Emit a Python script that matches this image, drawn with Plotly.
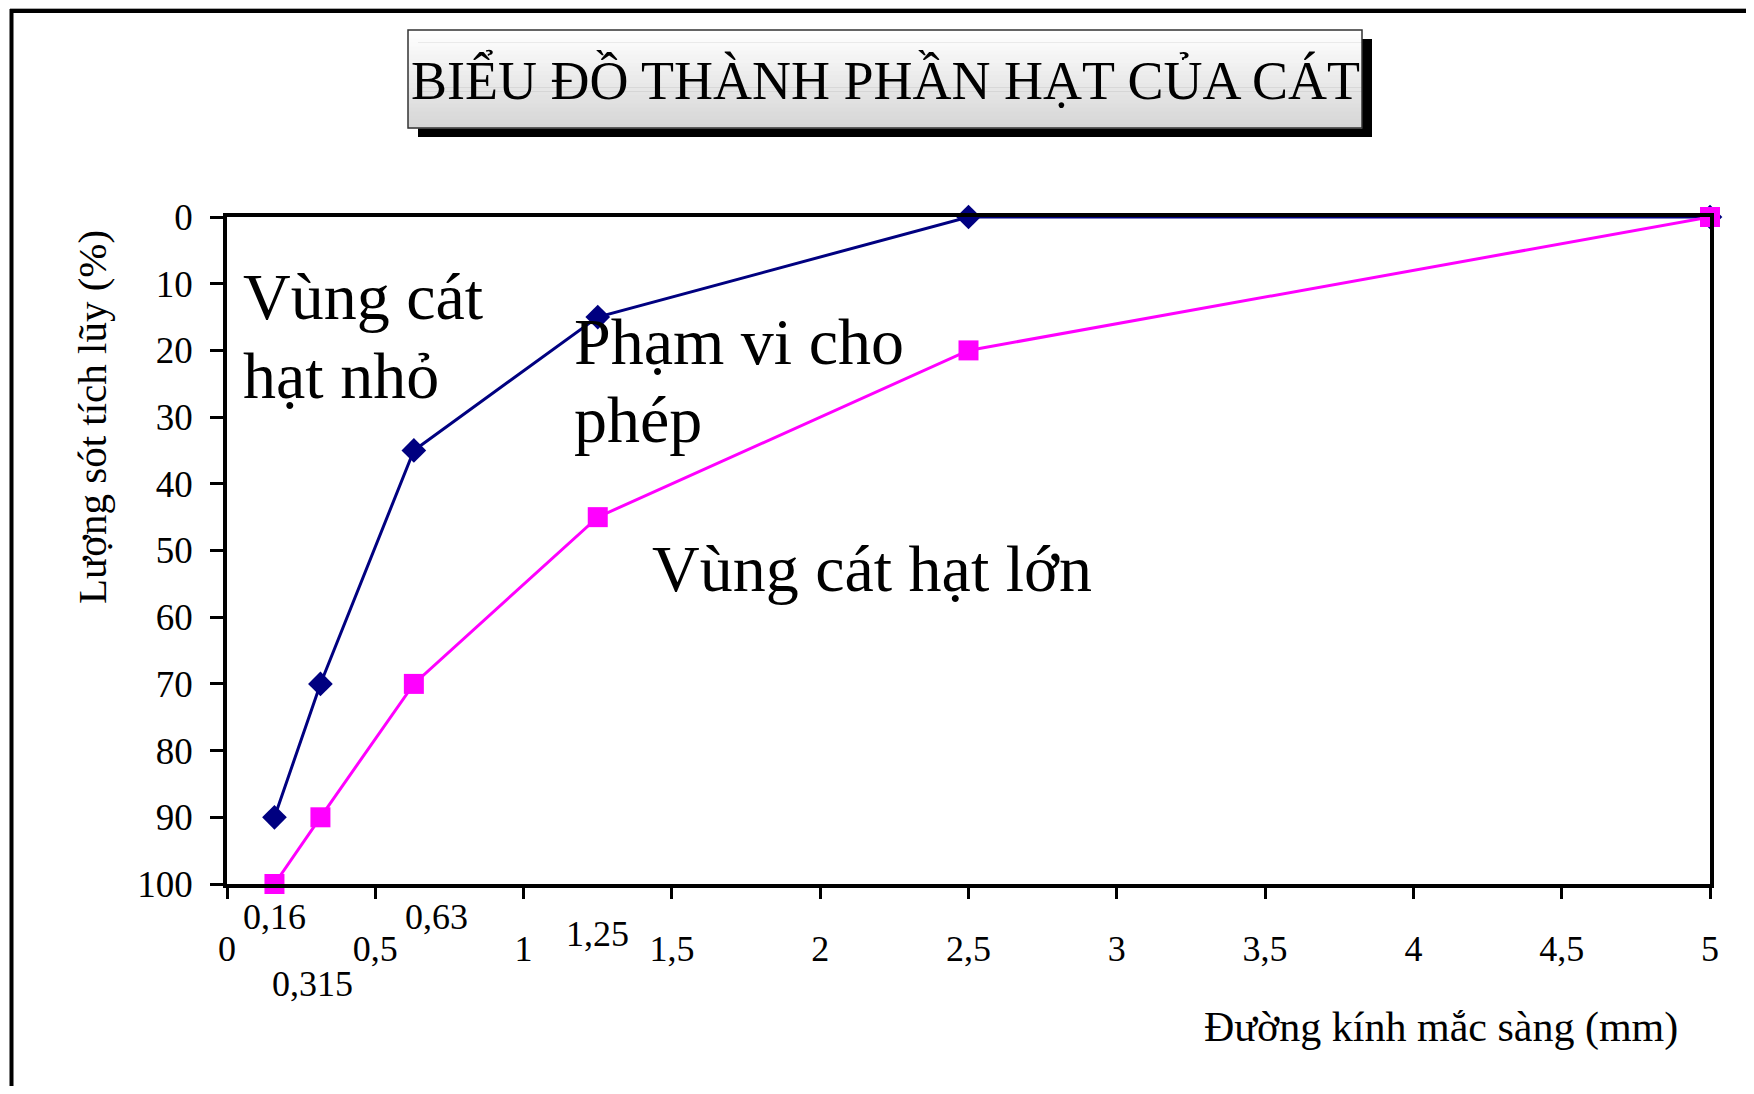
import plotly.graph_objects as go

# ---------------- data ----------------
sieve_mm = [0.16, 0.315, 0.63, 1.25, 2.5, 5]
fine_limit = [90, 70, 35, 15, 0, 0]          # navy – "Vùng cát hạt nhỏ" boundary
coarse_limit = [100, 90, 70, 45, 20, 0]      # magenta – "Vùng cát hạt lớn" boundary

x_tick_vals = [0, 0.5, 1, 1.5, 2, 2.5, 3, 3.5, 4, 4.5, 5]
x_tick_text = ["0", "0,5", "1", "1,5", "2", "2,5", "3", "3,5", "4", "4,5", "5"]
y_tick_vals = [0, 10, 20, 30, 40, 50, 60, 70, 80, 90, 100]

sieve_labels = ["0,16", "0,315", "0,63", "1,25"]
sieve_label_x = [0.16, 0.315, 0.63, 1.25]

title_text = "BIỂU ĐỒ THÀNH PHẦN HẠT CỦA CÁT"
x_title = "Đường kính mắc sàng (mm)"
y_title = "Lượng sót tích lũy (%)"

# ---------------- layout geometry (page pixels) ----------------
W, H = 1754, 1094
BODY = 8                       # default html body margin
FW, FH = W - 2 * BODY, H - 2 * BODY
L, R, T, B = 227, 1710, 217, 884
FONT = "Liberation Serif, Times New Roman, serif"


def px(x):
    return (x - L) / (R - L)


def py(y):
    return (B - y) / (B - T)


fig = go.Figure()

fig.add_trace(go.Scatter(
    x=sieve_mm, y=fine_limit, mode="lines+markers",
    line=dict(color="#000080", width=3),
    marker=dict(symbol="diamond", size=19, color="#000080"),
    showlegend=False, cliponaxis=False,
))
fig.add_trace(go.Scatter(
    x=sieve_mm, y=coarse_limit, mode="lines+markers",
    line=dict(color="#FF00FF", width=3),
    marker=dict(symbol="square", size=20, color="#FF00FF"),
    showlegend=False, cliponaxis=False,
))

shapes = []
# outer chart frame (top + left visible, cropped on right/bottom)
shapes.append(dict(type="line", xref="paper", yref="paper",
                   x0=px(10), x1=px(W + 5), y0=py(8.5), y1=py(8.5),
                   line=dict(color="#aaaaaa", width=1)))
shapes.append(dict(type="line", xref="paper", yref="paper",
                   x0=px(11.5), x1=px(W + 5), y0=py(11), y1=py(11),
                   line=dict(color="black", width=4)))
shapes.append(dict(type="line", xref="paper", yref="paper",
                   x0=px(11.5), x1=px(11.5), y0=py(9), y1=py(H + 5),
                   line=dict(color="black", width=4)))

# title box: shadow + gradient body + border
bx0, bx1, by0, by1 = 408, 1362, 30, 128
shapes.append(dict(type="rect", xref="paper", yref="paper",
                   x0=px(bx0 + 10), x1=px(bx1 + 10), y0=py(by0 + 9), y1=py(by1 + 9),
                   fillcolor="black", line=dict(width=0), layer="below"))
n = 24
for i in range(n):
    t = i / (n - 1)
    c = int(round(255 - t * (255 - 214)))
    ya = by0 + (by1 - by0) * i / n
    yb = by0 + (by1 - by0) * (i + 1) / n
    shapes.append(dict(type="rect", xref="paper", yref="paper",
                       x0=px(bx0), x1=px(bx1), y0=py(ya), y1=py(yb + 0.6),
                       fillcolor=f"rgb({c},{c},{c})", line=dict(width=0), layer="below"))
shapes.append(dict(type="rect", xref="paper", yref="paper",
                   x0=px(bx0), x1=px(bx1), y0=py(by0), y1=py(by1),
                   fillcolor="rgba(0,0,0,0)", line=dict(color="#333333", width=1.5), layer="below"))

annotations = []
annotations.append(dict(text=title_text, xref="paper", yref="paper",
                        x=px((bx0 + bx1) / 2), y=py((by0 + by1) / 2 + 1),
                        xanchor="center", yanchor="middle", showarrow=False,
                        font=dict(family=FONT, size=54, color="black")))

# staggered sieve-size labels under the x axis
label_offsets = [(0, 917), (-8, 984), (23, 917), (0, 934)]
for txt, xv, (dx, ypix) in zip(sieve_labels, sieve_label_x, label_offsets):
    annotations.append(dict(text=txt, xref="x", yref="paper", x=xv, xshift=dx,
                            y=py(ypix), xanchor="center", yanchor="middle",
                            showarrow=False,
                            font=dict(family=FONT, size=36, color="black")))

# axis titles
annotations.append(dict(text=x_title, xref="paper", yref="paper",
                        x=px(1680), y=py(1027), xanchor="right", yanchor="middle",
                        showarrow=False, font=dict(family=FONT, size=42, color="black")))
annotations.append(dict(text=y_title, xref="paper", yref="paper",
                        x=px(92), y=py(417), xanchor="center", yanchor="middle",
                        textangle=-90, showarrow=False,
                        font=dict(family=FONT, size=41, color="black")))

# region labels inside the plot (one annotation per line)
region_lines = [
    ("Vùng cát", 241, 296),
    ("hạt nhỏ", 241, 375),
    ("Phạm vi cho", 572, 341),
    ("phép", 572, 419),
    ("Vùng cát hạt lớn", 650, 568),
]
for txt, xl, yc in region_lines:
    annotations.append(dict(text=txt, xref="paper", yref="paper",
                            x=px(xl), y=py(yc), xanchor="left", yanchor="middle",
                            showarrow=False,
                            font=dict(family=FONT, size=66, color="black")))

fig.update_layout(
    width=FW, height=FH,
    margin=dict(l=L - BODY, r=FW - (R - BODY), t=T - BODY, b=FH - (B - BODY), pad=0),
    paper_bgcolor="white", plot_bgcolor="white",
    shapes=shapes, annotations=annotations,
    font=dict(family=FONT, color="black"),
)
fig.update_xaxes(
    range=[0, 5], tickmode="array", tickvals=x_tick_vals, ticktext=x_tick_text,
    showgrid=False, zeroline=False, showline=True, mirror=True,
    linecolor="black", linewidth=3.5,
    ticks="outside", ticklen=11, tickwidth=3, tickcolor="black",
    ticklabelstandoff=19,
    tickfont=dict(family=FONT, size=36, color="black"),
)
fig.update_yaxes(
    range=[100, 0], tickmode="array", tickvals=y_tick_vals,
    showgrid=False, zeroline=False, showline=True, mirror=True,
    linecolor="black", linewidth=3.5,
    ticks="outside", ticklen=13, tickwidth=3, tickcolor="black",
    ticklabelstandoff=10,
    tickfont=dict(family=FONT, size=37, color="black"),
)

fig.write_html("out.html")
